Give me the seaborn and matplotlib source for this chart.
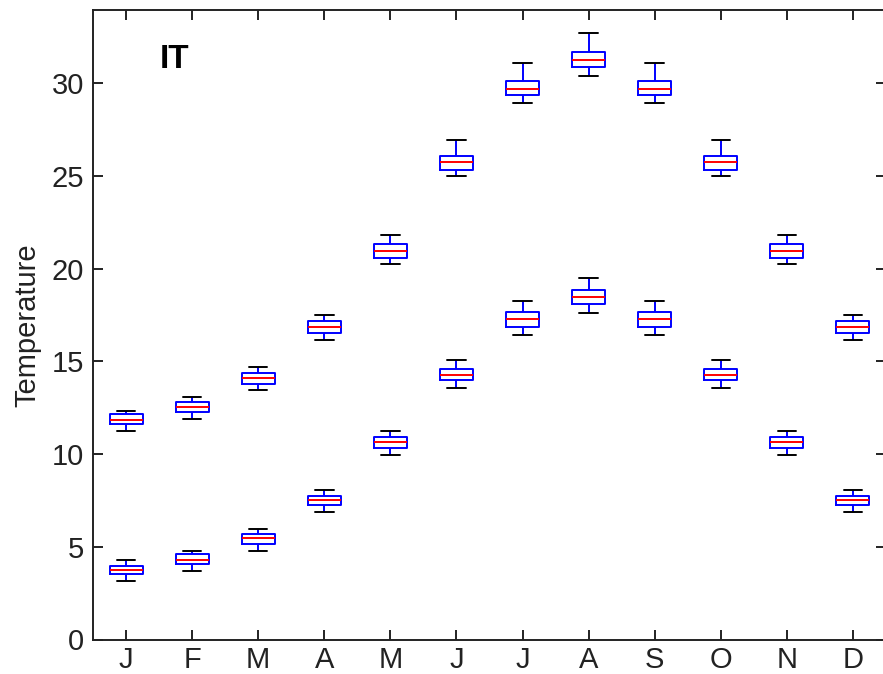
import numpy as np
import pandas as pd
import matplotlib
matplotlib.use("Agg")
import matplotlib.pyplot as plt
import seaborn as sns

months = ["J", "F", "M", "A", "M", "J", "J", "A", "S", "O", "N", "D"]
yticks = [0, 5, 10, 15, 20, 25, 30]

# upper series (five-number summaries per month)
hi_lo  = [11.22, 11.91, 13.44, 16.14, 20.24, 25.02, 28.91, 30.40, 28.91, 25.02, 20.24, 16.14]
hi_q1  = [11.60, 12.29, 13.80, 16.51, 20.56, 25.31, 29.37, 30.88, 29.37, 25.31, 20.56, 16.51]
hi_med = [11.82, 12.52, 14.08, 16.84, 20.94, 25.73, 29.68, 31.28, 29.68, 25.73, 20.94, 16.84]
hi_q3  = [12.14, 12.83, 14.35, 17.16, 21.32, 26.06, 30.10, 31.69, 30.10, 26.06, 21.32, 17.16]
hi_hi  = [12.32, 13.06, 14.68, 17.48, 21.84, 26.93, 31.08, 32.69, 31.08, 26.93, 21.84, 17.48]

# lower series
lo_lo  = [3.18, 3.67, 4.77, 6.85, 9.93, 13.55, 16.41, 17.59, 16.41, 13.55, 9.93, 6.85]
lo_q1  = [3.55, 4.05, 5.14, 7.23, 10.31, 13.98, 16.84, 18.08, 16.84, 13.98, 10.31, 7.23]
lo_med = [3.76, 4.28, 5.47, 7.54, 10.63, 14.25, 17.27, 18.46, 17.27, 14.25, 10.63, 7.54]
lo_q3  = [3.99, 4.59, 5.67, 7.75, 10.94, 14.57, 17.65, 18.83, 17.65, 14.57, 10.94, 7.75]
lo_hi  = [4.28, 4.77, 5.97, 8.06, 11.22, 15.06, 18.24, 19.48, 18.24, 15.06, 11.22, 8.06]


def long_frame(*cols):
    rows = []
    for i in range(len(months)):
        for c in cols:
            rows.append({"pos": i, "value": c[i]})
    return pd.DataFrame(rows)


df_hi = long_frame(hi_lo, hi_q1, hi_med, hi_q3, hi_hi)
df_lo = long_frame(lo_lo, lo_q1, lo_med, lo_q3, lo_hi)

sns.set_theme(style="ticks")
plt.rcParams["font.family"] = ["Liberation Sans", "DejaVu Sans"]

fig = plt.figure(figsize=(8.83, 6.74), dpi=100)
ax = fig.add_axes([93 / 883, (674 - 639.5) / 674, (886 - 93) / 883, (639.5 - 10) / 674])

kw = dict(
    x="pos", y="value", order=list(range(len(months))), width=0.5, whis=(0, 100),
    fill=False, linewidth=1.4, showfliers=False, native_scale=False,
    boxprops=dict(color="#0000ff"),
    medianprops=dict(color="#ff0000"),
    whiskerprops=dict(color="#0000ff", linestyle="-"),
    capprops=dict(color="#000000"),
    capwidths=0.28,
)
for df in (df_hi, df_lo):
    sns.boxplot(data=df, ax=ax, **kw)

ax.set_xlim(-0.5, 11.5)
ax.set_ylim(0, 33.95)
ax.set_xticks(range(len(months)))
ax.set_xticklabels(months)
ax.set_yticks(yticks)
ax.set_yticklabels([str(v) for v in yticks])
ax.set_xlabel("")
ax.set_ylabel("Temperature", fontsize=21, labelpad=7.5, color="#222222")

for s in ax.spines.values():
    s.set_visible(True)
    s.set_linewidth(1.4)
    s.set_color("#222222")
ax.tick_params(axis="both", direction="in", length=7, width=1.4, color="#222222",
               labelsize=21, labelcolor="#222222", top=True, right=True)
ax.tick_params(axis="y", pad=6.5)
ax.tick_params(axis="x", pad=4.5)

ax.text(0.084, 0.908, "IT", transform=ax.transAxes, fontsize=24, fontweight="bold",
        ha="left", va="baseline", color="black")

fig.savefig("out.png", dpi=100)
